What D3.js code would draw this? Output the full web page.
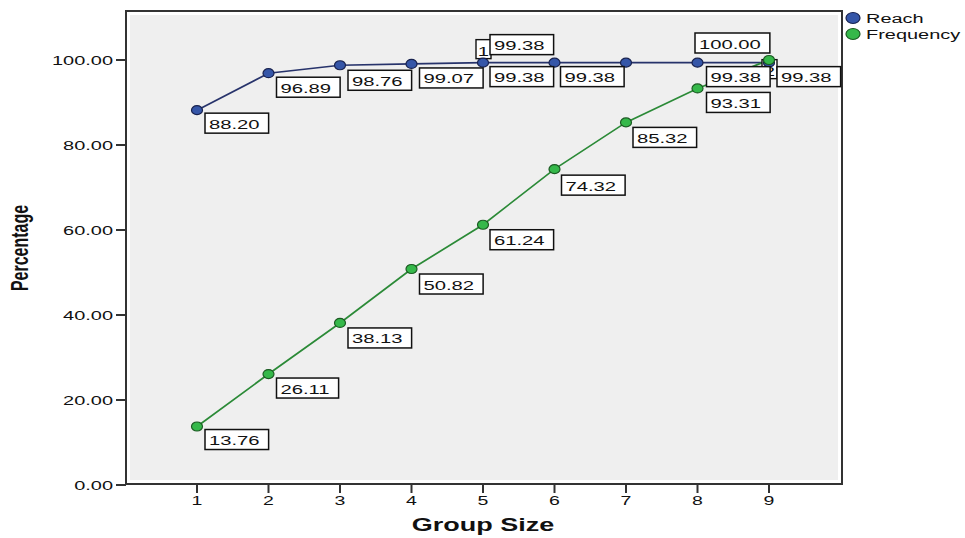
<!DOCTYPE html>
<html>
<head>
<meta charset="utf-8">
<script src="https://cdn.jsdelivr.net/npm/d3@7"></script>
<style>
  html, body { margin: 0; padding: 0; background: #ffffff; }
  svg { display: block; }
  text { font-family: Arial, "Liberation Sans", sans-serif; fill: #111; }
</style>
</head>
<body>
<svg id="chart" width="965" height="538"></svg>
<script>
// Data
const groupSizes = [1, 2, 3, 4, 5, 6, 7, 8, 9];
const reach      = [88.20, 96.89, 98.76, 99.07, 99.38, 99.38, 99.38, 99.38, 99.38];
const frequency  = [13.76, 26.11, 38.13, 50.82, 61.24, 74.32, 85.32, 93.31, 100.00];
const yTicks     = [0, 20, 40, 60, 80, 100];
const seriesNames = ["Reach", "Frequency"];

// Label box placement (offset of the box's top-left corner from its point)
const reachLabelOffset = [[8,3],[8,4],[8,5],[8,4],[7,4],[6,4],[-136,-28],[9,4],[8,4]];
const freqLabelOffset  = [[8,3],[8,4],[8,5],[8,5],[7,5],[7,6],[7,5],[9,4],[-74,-27]];
// Overlap counters shown beside crowded labels: [text, point index]
const overlapMarks = [["1", 4], ["2", 8]];
const overlapOffset = [[-7,-23],[-7,-3]];

const SX = 1.5; // horizontal text stretch
const svg = d3.select("#chart");

const frame = { left: 126, right: 842, top: 11, bottom: 484 };
const x = d3.scaleLinear().domain([0, 10]).range([125.5, 840.5]);
const y = d3.scaleLinear().domain([0, 100]).range([485, 60]);

const colors = {
  reachFill: "#3556a8", reachStroke: "#18224f", reachLine: "#27336b",
  freqFill: "#35b84a", freqStroke: "#1b5a22", freqLine: "#2b8a37"
};

// Plot frame
svg.append("rect")
  .attr("x", frame.left).attr("y", frame.top)
  .attr("width", frame.right - frame.left).attr("height", frame.bottom - frame.top)
  .attr("fill", "#ffffff").attr("stroke", "#333").attr("stroke-width", 2);
svg.append("rect")
  .attr("x", frame.left + 4).attr("y", frame.top + 4)
  .attr("width", frame.right - frame.left - 8).attr("height", frame.bottom - frame.top - 8)
  .attr("fill", "#efefef");

function stretchedText(g, tx, ty, str, opts = {}) {
  const t = g.append("text")
    .attr("transform", `translate(${tx},${ty}) scale(${SX},1)` + (opts.rotate ? ` rotate(${opts.rotate})` : ""))
    .attr("text-anchor", opts.anchor || "start")
    .attr("font-size", opts.size || 13)
    .attr("font-weight", opts.weight || "normal")
    .text(str);
  return t;
}

// Y axis ticks and labels
const yAxis = svg.append("g");
yTicks.forEach(v => {
  yAxis.append("line").attr("x1", 116).attr("x2", frame.left)
    .attr("y1", y(v)).attr("y2", y(v)).attr("stroke", "#333").attr("stroke-width", 2);
  stretchedText(yAxis, 113, y(v) + 4.5, d3.format(".2f")(v), { anchor: "end", size: 13.3 });
});

// X axis ticks and labels
const xAxis = svg.append("g");
groupSizes.forEach(v => {
  xAxis.append("line").attr("x1", x(v)).attr("x2", x(v))
    .attr("y1", frame.bottom + 1).attr("y2", frame.bottom + 9).attr("stroke", "#333").attr("stroke-width", 2);
  stretchedText(xAxis, x(v), 505, String(v), { anchor: "middle" });
});

// Axis titles
stretchedText(svg, 483, 531, "Group Size", { anchor: "middle", size: 18, weight: "bold" });
stretchedText(svg, 28, 248, "Percentage", { anchor: "middle", size: 16, weight: "bold", rotate: -90 });

// Lines
const line = d3.line().x((d, i) => x(groupSizes[i])).y(d => y(d));
svg.append("path").datum(reach).attr("d", line)
  .attr("fill", "none").attr("stroke", colors.reachLine).attr("stroke-width", 1.7);
svg.append("path").datum(frequency).attr("d", line)
  .attr("fill", "none").attr("stroke", colors.freqLine).attr("stroke-width", 1.7);

// Label box helper
function labelBox(g, bx, by, str) {
  const grp = g.append("g");
  const rect = grp.append("rect").attr("x", bx).attr("y", by).attr("height", 20)
    .attr("fill", "#fff").attr("stroke", "#111").attr("stroke-width", 1.5);
  const t = stretchedText(grp, bx + 4, by + 15.5, str, { size: 13.5 });
  const w = t.node().getComputedTextLength() * SX;
  rect.attr("width", w + 13);
  return grp;
}

// Overlap counters (drawn beneath markers)
const overlapLayer = svg.append("g");
overlapMarks.forEach(([txt, i], k) => {
  const px = x(groupSizes[i]), py = y(reach[i]);
  const bx = px + overlapOffset[k][0], by = py + overlapOffset[k][1];
  overlapLayer.append("rect").attr("x", bx).attr("y", by).attr("width", 15).attr("height", 19)
    .attr("fill", "#fff").attr("stroke", "#111").attr("stroke-width", 1.4);
  stretchedText(overlapLayer, bx + 7.5, by + 16, txt, { anchor: "middle", size: 13.5 });
});

// Markers
svg.append("g").selectAll("ellipse").data(reach).join("ellipse")
  .attr("cx", (d, i) => x(groupSizes[i])).attr("cy", d => y(d))
  .attr("rx", 5.5).attr("ry", 4.5)
  .attr("fill", colors.reachFill).attr("stroke", colors.reachStroke).attr("stroke-width", 1.2);
svg.append("g").selectAll("ellipse").data(frequency).join("ellipse")
  .attr("cx", (d, i) => x(groupSizes[i])).attr("cy", d => y(d))
  .attr("rx", 5.5).attr("ry", 4.5)
  .attr("fill", colors.freqFill).attr("stroke", colors.freqStroke).attr("stroke-width", 1.2);

// Value labels
const labels = svg.append("g");
reach.forEach((v, i) => {
  const [dx, dy] = reachLabelOffset[i];
  labelBox(labels, x(groupSizes[i]) + dx, y(v) + dy, d3.format(".2f")(v));
});
frequency.forEach((v, i) => {
  const [dx, dy] = freqLabelOffset[i];
  labelBox(labels, x(groupSizes[i]) + dx, y(v) + dy, d3.format(".2f")(v));
});

// Legend
const legend = svg.append("g");
const legendFill = [colors.reachFill, colors.freqFill];
const legendStroke = [colors.reachStroke, colors.freqStroke];
seriesNames.forEach((name, i) => {
  const ly = 18 + i * 16;
  legend.append("ellipse").attr("cx", 853).attr("cy", ly).attr("rx", 7).attr("ry", 5.5)
    .attr("fill", legendFill[i]).attr("stroke", legendStroke[i]).attr("stroke-width", 1.2);
  stretchedText(legend, 866, ly + 5, name, { size: 13.3 });
});
</script>
</body>
</html>
